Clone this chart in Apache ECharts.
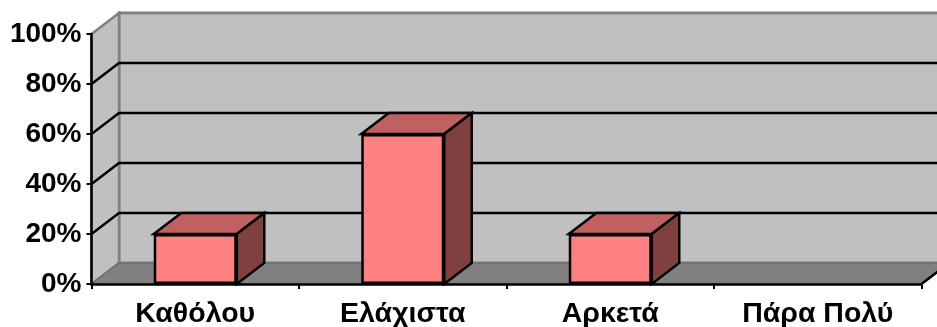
<!DOCTYPE html>
<html>
<head>
<meta charset="utf-8">
<style>html,body{margin:0;padding:0;background:#fff}#chart{width:937px;height:327px}</style>
<script src="https://cdn.jsdelivr.net/npm/echarts@6/dist/echarts.min.js"></script>
</head>
<body>
<div id="chart"></div>
<script>
const categories = ['Καθόλου', 'Ελάχιστα', 'Αρκετά', 'Πάρα Πολύ'];
const shares = [20, 60, 20, 0];
const yTicks = [0, 20, 40, 60, 80, 100];

// Oblique projection offset of the chart's back plane, in pixels
const DEPTH_X = 27.5;
const DEPTH_Y = -21;
const BAR_RATIO = 0.4;

const FONT = '"Liberation Sans", Arial, sans-serif';

function polygon(points, fill, stroke, lineWidth) {
  return {
    type: 'polygon',
    shape: { points },
    style: { fill, stroke: stroke || 'none', lineWidth: lineWidth || 0, lineJoin: 'miter' }
  };
}

// Back wall, side wall and floor of the box
function renderBox(params) {
  const c = params.coordSys;
  const l = c.x, r = c.x + c.width, t = c.y, b = c.y + c.height;
  const wall = '#c0c0c0', edge = '#808080';
  return {
    type: 'group',
    children: [
      polygon([[l + DEPTH_X, t + DEPTH_Y], [r + DEPTH_X, t + DEPTH_Y], [r + DEPTH_X, b + DEPTH_Y], [l + DEPTH_X, b + DEPTH_Y]], wall, edge, 3),
      polygon([[l, t], [l + DEPTH_X, t + DEPTH_Y], [l + DEPTH_X, b + DEPTH_Y], [l, b]], wall, edge, 2.5),
      polygon([[l, b], [l + DEPTH_X, b + DEPTH_Y], [r + DEPTH_X, b + DEPTH_Y], [r, b]], '#808080', '#6e6e6e', 1.5),
      { type: 'line', shape: { x1: r, y1: b, x2: r + DEPTH_X, y2: b + DEPTH_Y }, style: { stroke: '#000', lineWidth: 2.5 } }
    ]
  };
}

// Gridline bent across side wall and back wall
function renderGridline(params, api) {
  const c = params.coordSys;
  const y = api.coord([0, api.value(1)])[1];
  return {
    type: 'polyline',
    shape: { points: [[c.x, y], [c.x + DEPTH_X, y + DEPTH_Y], [c.x + c.width + DEPTH_X, y + DEPTH_Y]] },
    style: { fill: 'none', stroke: '#000', lineWidth: 2.5 }
  };
}

// Top and right faces of a bar; the front face is the bar series itself
function renderBarFaces(params, api) {
  const value = api.value(1);
  if (!(value > 0)) return null;
  const centre = api.coord([api.value(0), value]);
  const base = api.coord([api.value(0), 0]);
  const half = api.size([1, 0])[0] * BAR_RATIO / 2;
  const x0 = centre[0] - half, x1 = centre[0] + half, top = centre[1], bottom = base[1];
  return {
    type: 'group',
    children: [
      polygon([[x0, top], [x0 + DEPTH_X, top + DEPTH_Y], [x1 + DEPTH_X, top + DEPTH_Y], [x1, top]], '#c06060', '#000', 2.5),
      polygon([[x1, top], [x1 + DEPTH_X, top + DEPTH_Y], [x1 + DEPTH_X, bottom + DEPTH_Y], [x1, bottom]], '#804040', '#000', 2.5)
    ]
  };
}

const chart = echarts.init(document.getElementById('chart'), null, { renderer: 'canvas' });
chart.setOption({
  animation: false,
  backgroundColor: '#fff',
  grid: { left: 91.5, right: 15.5, top: 34, bottom: 43, outerBoundsMode: 'none', containLabel: false },
  xAxis: {
    type: 'category',
    data: categories,
    z: 10,
    axisLine: { lineStyle: { color: '#000', width: 2.5 } },
    axisTick: { show: true, alignWithLabel: false, length: 5, lineStyle: { color: '#000', width: 2 } },
    axisLabel: { color: '#000', fontFamily: FONT, fontWeight: 'bold', fontSize: 28.5, margin: 16, interval: 0 }
  },
  yAxis: {
    type: 'value',
    min: 0,
    max: 100,
    interval: 20,
    z: 10,
    splitLine: { show: false },
    axisLine: { show: true, lineStyle: { color: '#000', width: 2.5 } },
    axisTick: { show: true, length: 5, lineStyle: { color: '#000', width: 2 } },
    axisLabel: { color: '#000', fontFamily: FONT, fontWeight: 'bold', fontSize: 28, margin: 10, padding: [5, 0, 0, 0], formatter: '{value}%' }
  },
  series: [
    {
      type: 'custom',
      z: 1,
      silent: true,
      clip: false,
      renderItem: renderBox,
      data: [[0, 0]]
    },
    {
      type: 'custom',
      z: 2,
      silent: true,
      clip: false,
      renderItem: renderGridline,
      data: yTicks.filter(v => v > 0 && v < 100).map(v => [0, v])
    },
    {
      type: 'custom',
      z: 3,
      silent: true,
      clip: false,
      renderItem: renderBarFaces,
      encode: { x: 0, y: 1 },
      data: shares.map((v, i) => [i, v])
    },
    {
      type: 'bar',
      z: 4,
      silent: true,
      barWidth: (BAR_RATIO * 100) + '%',
      itemStyle: { color: '#ff8080', borderColor: '#000', borderWidth: 2.5 },
      data: shares.map(v => (v > 0 ? v : null))
    }
  ]
});
</script>
</body>
</html>
